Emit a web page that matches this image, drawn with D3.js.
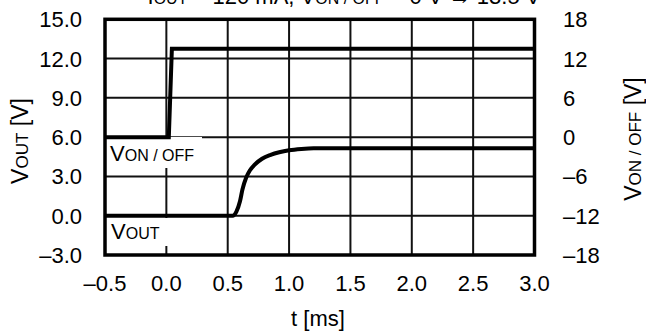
<!DOCTYPE html>
<html lang="en">
<head>
<meta charset="utf-8">
<title>VOUT / VON/OFF step response</title>
<script src="https://cdn.jsdelivr.net/npm/d3@7"></script>
<style>
  body { margin: 0; background: #fff; }
  text { font-family: "Liberation Sans", Arial, sans-serif; fill: #000; }
</style>
</head>
<body>
<div id="chart"></div>
<script>
// data
const xTicks = [-0.5, 0.0, 0.5, 1.0, 1.5, 2.0, 2.5, 3.0];
const yLeftTicks = [-3, 0, 3, 6, 9, 12, 15];
const yRightTicks = [-18, -12, -6, 0, 6, 12, 18];

// control input (right axis), t in ms
const vonT = [-0.5, 0.02, 0.045, 3.0];
const vonV = [0, 0, 13.5, 13.5];

// output (left axis)
const voutT = [-0.5, 0.54, 0.57, 0.60, 0.62, 0.65, 0.68, 0.72, 0.78, 0.85, 0.92, 1.0, 1.1, 1.2, 3.0];
const voutV = [0, 0, 0.3, 1.1, 2.0, 2.9, 3.45, 3.9, 4.35, 4.65, 4.85, 5.0, 5.1, 5.15, 5.15];

const width = 646, height = 331;
const plotL = 105, plotR = 534.5, plotT = 19.3, plotB = 255;

const svg = d3.select("#chart").append("svg")
    .attr("width", width)
    .attr("height", height);

svg.append("rect").attr("width", width).attr("height", height).attr("fill", "#fff");

const x = d3.scaleLinear().domain([-0.5, 3.0]).range([plotL, plotR]);
const yL = d3.scaleLinear().domain([-3, 15]).range([plotB, plotT]);
const yR = d3.scaleLinear().domain([-18, 18]).range([plotB, plotT]);

const fmtMinus = s => s.replace("-", "\u2013");

// grid
const grid = svg.append("g").attr("stroke", "#111").attr("stroke-width", 2);
grid.selectAll(".gx").data(xTicks.slice(1, -1)).enter().append("line")
    .attr("x1", d => x(d)).attr("x2", d => x(d))
    .attr("y1", plotT).attr("y2", plotB);
grid.selectAll(".gy").data(yLeftTicks.slice(1, -1)).enter().append("line")
    .attr("x1", plotL).attr("x2", plotR)
    .attr("y1", d => yL(d)).attr("y2", d => yL(d));

// label boxes (white, hide the grid behind them)
function label(xp, yp, big, small, boxW, boxH) {
    svg.append("rect")
        .attr("x", xp - 4).attr("y", yp - boxH + 7)
        .attr("width", boxW).attr("height", boxH)
        .attr("fill", "#fff");
    const t = svg.append("text").attr("x", xp).attr("y", yp).style("font-size", "22px");
    t.append("tspan").text(big);
    t.append("tspan").style("font-size", "16px").text(small);
}
label(110, 161, "V", "ON / OFF", 96, 31);
label(111, 239, "V", "OUT", 62, 28);

// series
const lineOn = d3.line().x(d => x(d[0])).y(d => yR(d[1]));
svg.append("path")
    .datum(d3.zip(vonT, vonV))
    .attr("fill", "none").attr("stroke", "#000").attr("stroke-width", 4)
    .attr("d", lineOn);

const lineOut = d3.line().x(d => x(d[0])).y(d => yL(d[1])).curve(d3.curveMonotoneX);
svg.append("path")
    .datum(d3.zip(voutT, voutV))
    .attr("fill", "none").attr("stroke", "#000").attr("stroke-width", 4)
    .attr("d", lineOut);

// frame
svg.append("rect")
    .attr("x", plotL).attr("y", plotT)
    .attr("width", plotR - plotL).attr("height", plotB - plotT)
    .attr("fill", "none").attr("stroke", "#000").attr("stroke-width", 3.5);

// axes labels
const axX = svg.append("g").style("font-size", "22px").attr("text-anchor", "middle");
axX.selectAll("text").data(xTicks).enter().append("text")
    .attr("x", d => x(d)).attr("y", 291)
    .text(d => fmtMinus(d.toFixed(1)));

const axL = svg.append("g").style("font-size", "22px").attr("text-anchor", "end");
axL.selectAll("text").data(yLeftTicks).enter().append("text")
    .attr("x", 82).attr("y", d => yL(d)).attr("dy", "0.36em")
    .text(d => fmtMinus(d.toFixed(1)));

const axR = svg.append("g").style("font-size", "22px").attr("text-anchor", "start");
axR.selectAll("text").data(yRightTicks).enter().append("text")
    .attr("x", 563).attr("y", d => yR(d)).attr("dy", "0.36em")
    .text(d => fmtMinus(String(d)));

svg.append("text")
    .attr("x", 318).attr("y", 326)
    .attr("text-anchor", "middle")
    .style("font-size", "22px")
    .text("t [ms]");

const tl = svg.append("text")
    .attr("transform", "translate(28,141) rotate(-90)")
    .attr("text-anchor", "middle")
    .style("font-size", "23px");
tl.append("tspan").text("V");
tl.append("tspan").style("font-size", "17px").text("OUT");
tl.append("tspan").text(" [V]");

const tr = svg.append("text")
    .attr("transform", "translate(641,139) rotate(-90)")
    .attr("text-anchor", "middle")
    .style("font-size", "23px");
tr.append("tspan").text("V");
tr.append("tspan").style("font-size", "17px").text("ON / OFF");
tr.append("tspan").text(" [V]");

// title, mostly cropped at the top edge as in the source figure
const title = svg.append("text")
    .attr("x", 344).attr("y", 4)
    .attr("text-anchor", "middle")
    .style("font-size", "22px");
title.append("tspan").text("I");
title.append("tspan").style("font-size", "16px").text("OUT");
title.append("tspan").text(" = 120 mA, V");
title.append("tspan").style("font-size", "16px").text("ON / OFF");
title.append("tspan").text(" = 0 V \u2192 13.5 V");
</script>
</body>
</html>
